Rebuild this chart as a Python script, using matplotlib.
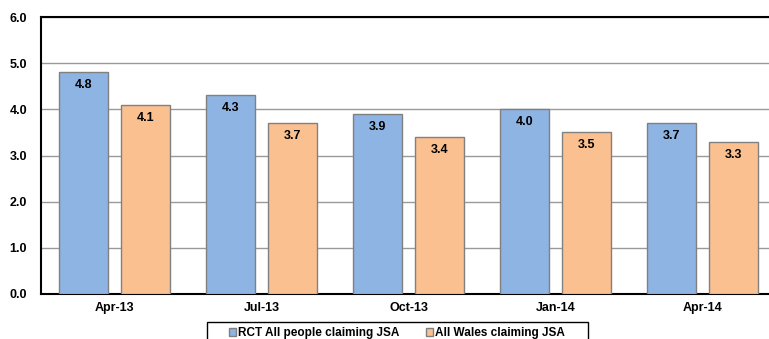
import numpy as np
import matplotlib
matplotlib.use("Agg")
from matplotlib import pyplot as plt
from matplotlib.patches import Rectangle

plt.rcParams['font.family'] = ['Liberation Sans', 'DejaVu Sans']

quarters = ['Apr-13', 'Jul-13', 'Oct-13', 'Jan-14', 'Apr-14']
rct = [4.8, 4.3, 3.9, 4.0, 3.7]
wales = [4.1, 3.7, 3.4, 3.5, 3.3]

fig = plt.figure(figsize=(7.69, 3.39), dpi=100)
ax = fig.add_axes([41/769, 45/339, 735/769, 277/339])

x = np.arange(len(quarters))
w = 0.333
b1 = ax.bar(x - 0.211, rct, w, color='#8EB4E3', edgecolor='#808080', linewidth=1,
            label='RCT All people claiming JSA', zorder=3)
b2 = ax.bar(x + 0.211, wales, w, color='#FAC090', edgecolor='#808080', linewidth=1,
            label='All Wales claiming JSA', zorder=3)

for bars in (b1, b2):
    for r in bars:
        ax.annotate('%.1f' % r.get_height(), (r.get_x() + r.get_width()/2, r.get_height()),
                    xytext=(0, -13), textcoords='offset pixels', ha='center', va='center',
                    fontsize=9, fontweight='bold', zorder=4)

ax.set_xlim(-0.5, len(quarters) - 0.5)
ax.set_ylim(0, 6)
ax.set_yticks(np.arange(0, 6.1, 1.0))
ax.set_yticklabels(['%.1f' % v for v in np.arange(0, 6.1, 1.0)], fontsize=9, fontweight='bold')
ax.set_xticks(x)
ax.set_xticklabels(quarters, fontsize=9, fontweight='bold')
ax.tick_params(axis='x', length=0, pad=6)
ax.tick_params(axis='y', length=0, pad=10)
ax.yaxis.grid(True, color='#999999', linewidth=1, zorder=0)
ax.set_axisbelow(True)
ax.spines['right'].set_visible(False)
for s in ('left', 'top', 'bottom'):
    ax.spines[s].set_color('black')
    ax.spines[s].set_linewidth(1.5)

# legend box runs off the bottom of the picture, like the original
fig.patches.append(Rectangle((207/769, -0.05), 381/769, 0.05 + 1 - 322/339,
                             transform=fig.transFigure, fill=False, edgecolor='black',
                             linewidth=1))
leg = fig.legend(handles=[b1, b2], loc='center', bbox_to_anchor=(397/769, 1 - 333/339),
                 ncol=2, frameon=False,
                 prop={'size': 8.5, 'weight': 'bold'}, handlelength=0.6, handleheight=0.6,
                 handletextpad=0.2, columnspacing=2.2, borderpad=0, borderaxespad=0)

fig.savefig('out.png', dpi=100)
